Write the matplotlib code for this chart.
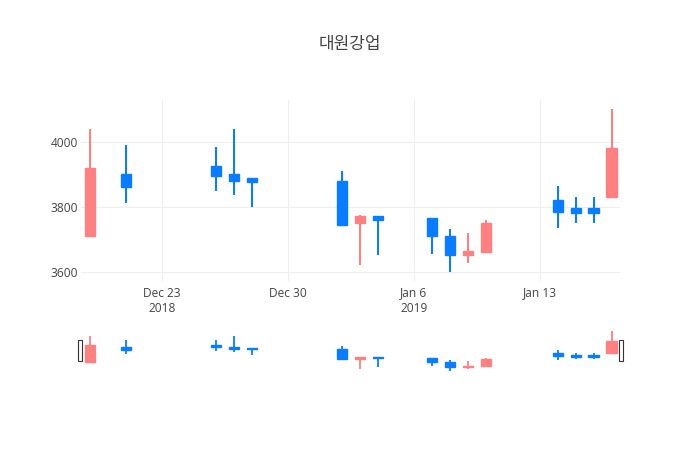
import matplotlib
matplotlib.use("Agg")
import matplotlib.pyplot as plt
import matplotlib.dates as mdates
from matplotlib.patches import Rectangle
import pandas as pd

# daily prices
dates = ["2018-12-19", "2018-12-21", "2018-12-26", "2018-12-27", "2018-12-28",
         "2019-01-02", "2019-01-03", "2019-01-04", "2019-01-07", "2019-01-08",
         "2019-01-09", "2019-01-10", "2019-01-14", "2019-01-15", "2019-01-16",
         "2019-01-17"]
open_ = [3710, 3900, 3925, 3900, 3890, 3880, 3750, 3770, 3765, 3710, 3650, 3660, 3820, 3795, 3795, 3830]
high = [4040, 3990, 3985, 4040, 3890, 3910, 3775, 3770, 3765, 3730, 3720, 3760, 3865, 3830, 3830, 4100]
low = [3710, 3810, 3850, 3835, 3800, 3745, 3620, 3650, 3655, 3600, 3625, 3660, 3735, 3750, 3750, 3830]
close = [3920, 3860, 3895, 3880, 3875, 3745, 3770, 3760, 3710, 3650, 3665, 3750, 3785, 3780, 3780, 3980]

title = "대원강업"
x_ticks = ["2018-12-23", "2018-12-30", "2019-01-06", "2019-01-13"]
x_tick_labels = ["Dec 23\n2018", "Dec 30", "Jan 6\n2019", "Jan 13"]
y_ticks = [3600, 3800, 4000]

UP = "#ff8080"
DOWN = "#0a7cff"
TXT = "#444444"
W, H = 700, 450

x = mdates.date2num(pd.to_datetime(dates))
xlim = (mdates.date2num(pd.Timestamp("2018-12-18 12:00")),
        mdates.date2num(pd.Timestamp("2019-01-17 12:00")))
ylim = (3571, 4129)


def draw_candles(ax, lw):
    for xi, o, h, l, c in zip(x, open_, high, low, close):
        col = UP if c >= o else DOWN
        ax.vlines(xi, l, h, color=col, lw=lw, zorder=2)
        bot, top = min(o, c), max(o, c)
        ax.bar(xi, top - bot, bottom=bot, width=0.56, color=col,
               edgecolor=col, linewidth=1.0, zorder=3)


fig = plt.figure(figsize=(W / 100, H / 100), dpi=100)


def axes_px(left, top, right, bottom):
    return fig.add_axes([left / W, 1 - bottom / H, (right - left) / W, (bottom - top) / H])


ax = axes_px(81, 100, 620.5, 281)
draw_candles(ax, 1.45)
ax.set_xlim(xlim)
ax.set_ylim(ylim)
ax.set_xticks(mdates.date2num(pd.to_datetime(x_ticks)))
ax.set_xticklabels(x_tick_labels, fontsize=8.6, color=TXT, family="Open Sans", linespacing=1.25)
ax.set_yticks(y_ticks)
ax.set_yticklabels([str(v) for v in y_ticks], fontsize=8.6, color=TXT, family="Open Sans")
ax.tick_params(axis="both", length=0)
ax.tick_params(axis="x", pad=4)
ax.tick_params(axis="y", pad=2)
ax.grid(True, color="#eeeeee", lw=0.8, zorder=0)
ax.set_axisbelow(True)
for s in ax.spines.values():
    s.set_visible(False)

# range slider
sl = axes_px(81, 329, 620.5, 373)
draw_candles(sl, 1.3)
sl.set_xlim(xlim)
sl.set_ylim(ylim)
sl.set_xticks([])
sl.set_yticks([])
for s in sl.spines.values():
    s.set_visible(False)

for hx in (77.5, 618.5):
    fig.patches.append(Rectangle((hx / W, 1 - 360.5 / H), 4.5 / W, 20.5 / H,
                                 transform=fig.transFigure, facecolor="white",
                                 edgecolor="#333333", lw=0.8, zorder=5))

fig.text(0.5, 1 - 44 / H, title, ha="center", va="center", fontsize=12.2, color=TXT,
         family=["Noto Sans CJK KR", "DejaVu Sans"])

fig.savefig("out.png", dpi=100)
